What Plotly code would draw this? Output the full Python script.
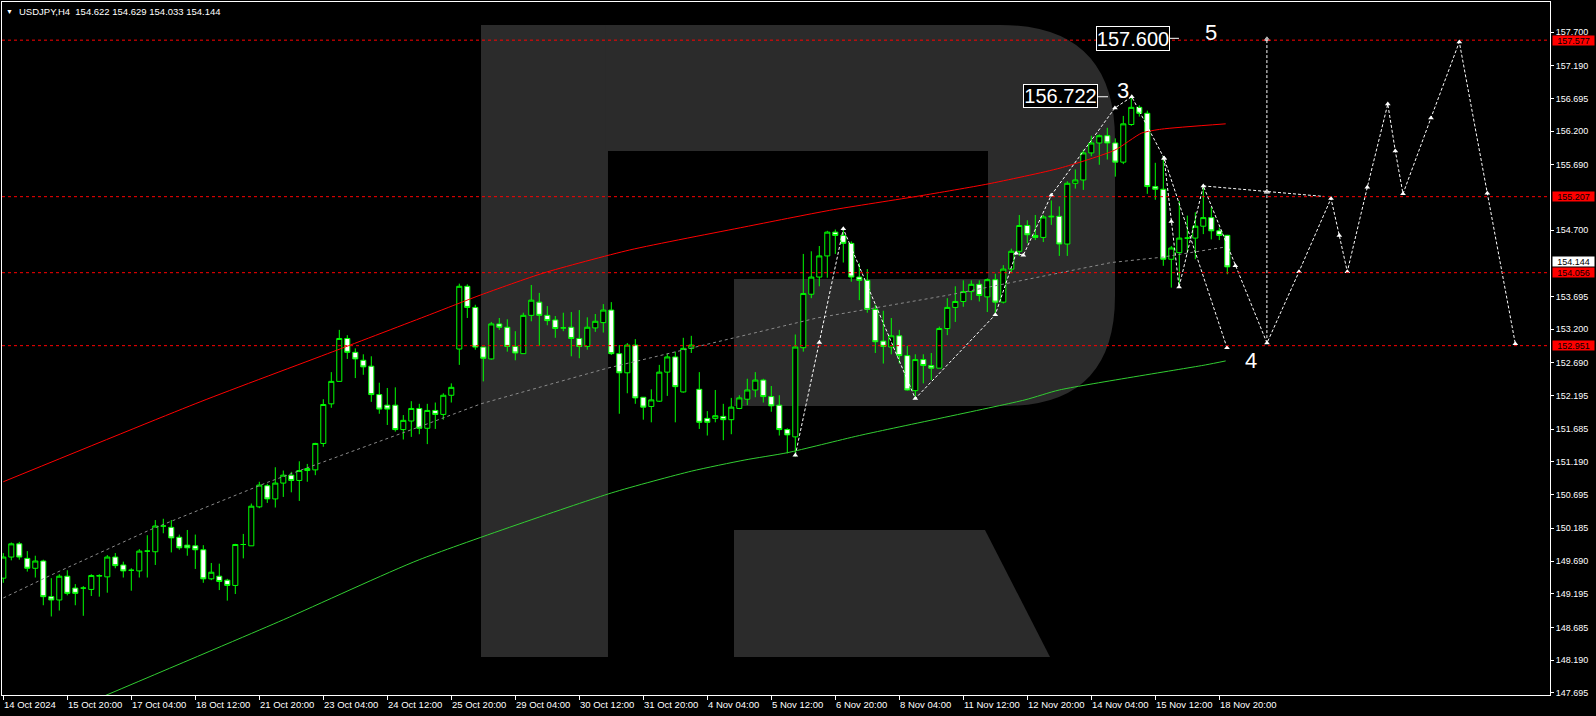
import plotly.graph_objects as go

# ---------------- data ----------------
bar_index = list(range(154))
open_ = [149.43,149.75,149.95,149.73,149.58,149.69,149.15,149.10,149.46,149.28,
         149.28,149.26,149.46,149.45,149.75,149.63,149.55,149.54,149.84,149.83,
         150.22,150.20,150.05,149.93,149.92,149.86,149.42,149.46,149.40,149.32,
         149.94,149.92,150.51,150.83,150.63,150.87,150.99,150.91,151.06,151.07,
         151.47,152.07,152.41,153.06,152.85,152.73,152.64,152.21,152.05,152.05,
         151.68,151.81,152.00,151.70,151.97,151.91,152.20,152.90,153.85,153.53,
         152.93,152.75,153.28,153.23,152.94,152.83,153.41,153.61,153.41,153.34,
         153.22,153.23,153.06,152.94,153.22,153.30,153.49,152.83,152.54,152.96,
         152.17,152.03,152.11,152.55,152.78,152.25,152.91,152.29,151.85,151.85,
         151.88,151.83,152.00,152.14,152.28,152.43,152.18,152.05,151.68,151.57,
         152.92,153.73,153.99,154.31,154.67,154.62,154.50,153.99,153.94,153.50,
         153.02,152.93,153.10,152.80,152.27,152.74,152.65,152.61,153.21,153.53,
         153.62,153.77,153.88,153.69,153.95,153.61,154.11,154.38,154.77,154.62,
         154.59,154.90,154.91,154.49,155.41,155.46,155.87,156.02,156.13,156.02,
         155.73,156.30,156.56,156.47,155.36,155.32,154.26,154.36,154.58,154.58,
         154.76,154.89,154.69,154.622]
high = [149.81,149.97,149.98,149.84,149.77,149.71,149.43,149.49,149.55,149.34,
        149.31,149.49,149.49,149.78,149.81,149.68,149.58,149.87,150.08,150.31,
        150.33,150.31,150.09,150.16,150.09,149.93,149.66,149.65,149.42,149.95,
        150.10,150.56,150.89,150.86,151.11,151.06,151.04,151.20,151.16,151.48,
        152.14,152.55,153.19,153.11,152.91,152.82,152.79,152.39,152.31,152.32,
        151.90,152.11,152.07,152.07,152.09,152.23,152.38,153.89,153.88,153.57,
        152.93,153.31,153.37,153.35,153.17,153.45,153.87,153.75,153.55,153.40,
        153.45,153.46,153.49,153.38,153.43,153.58,153.61,152.96,152.99,153.05,
        152.17,152.29,152.66,152.83,152.86,153.07,153.10,152.55,151.96,152.28,
        152.07,152.16,152.20,152.45,152.55,152.45,152.34,152.20,151.70,153.12,
        154.34,154.38,154.46,154.69,154.71,154.74,154.53,154.20,154.11,153.57,
        153.48,153.37,153.19,152.95,152.82,152.82,152.84,153.24,153.67,153.85,
        153.94,153.94,153.94,153.97,154.04,154.17,154.42,154.93,154.85,154.93,
        154.93,155.15,155.06,155.44,155.62,155.92,156.13,156.15,156.25,156.09,
        156.43,156.72,156.59,156.51,155.72,155.82,154.46,155.14,154.92,154.97,
        155.38,155.05,154.74,154.629]
low = [149.36,149.70,149.71,149.53,149.44,149.02,148.85,148.94,149.17,149.02,
       148.86,149.16,149.15,149.21,149.58,149.44,149.24,149.44,149.44,149.63,
       150.11,149.82,149.86,149.77,149.57,149.36,149.40,149.25,149.09,149.19,
       149.73,149.92,150.49,150.57,150.50,150.66,150.73,150.60,150.89,150.99,
       151.42,152.01,152.41,152.75,152.46,152.51,152.10,151.92,151.75,151.65,
       151.53,151.57,151.61,151.46,151.69,151.83,152.09,152.66,153.37,152.89,
       152.41,152.74,153.19,152.86,152.73,152.83,153.32,152.95,153.26,153.07,
       153.17,152.79,152.76,152.89,153.16,153.15,152.81,151.92,152.23,152.07,
       151.83,151.79,152.10,152.19,151.79,152.24,152.84,151.69,151.59,151.79,
       151.52,151.61,151.99,152.05,152.17,152.09,151.95,151.59,151.32,151.27,
       152.86,153.67,153.85,153.98,154.34,154.21,153.92,153.64,153.45,152.84,
       152.68,152.82,152.68,152.27,152.16,152.38,152.43,152.61,153.11,153.31,
       153.54,153.64,153.62,153.46,153.44,153.59,154.05,154.31,154.50,154.55,
       154.52,154.78,154.31,154.31,155.33,155.31,155.82,155.69,155.77,155.51,
       155.70,156.28,156.42,155.25,155.16,154.16,153.83,153.86,154.36,154.26,
       154.64,154.56,154.55,154.033]
close = [149.75,149.95,149.75,149.58,149.69,149.15,149.10,149.46,149.20,149.20,
         149.28,149.47,149.47,149.75,149.62,149.54,149.55,149.84,149.84,150.22,
         150.22,150.04,149.89,149.89,149.86,149.42,149.52,149.38,149.32,149.94,
         149.94,150.52,150.84,150.63,150.87,150.99,150.91,151.06,151.09,151.47,
         152.06,152.41,153.06,152.85,152.75,152.63,152.21,151.99,151.99,151.68,
         151.82,152.00,151.70,151.97,151.91,152.20,152.32,153.85,153.53,152.93,
         152.76,153.28,153.23,152.94,152.84,153.41,153.64,153.41,153.33,153.21,
         153.22,153.06,152.94,153.23,153.32,153.49,152.83,152.54,152.96,152.16,
         152.02,152.13,152.55,152.78,152.33,152.91,152.96,151.79,151.79,151.89,
         151.83,152.02,152.16,152.28,152.43,152.18,152.04,151.68,151.60,152.93,
         153.74,153.99,154.31,154.67,154.62,154.50,153.99,153.94,153.50,153.01,
         152.94,153.10,152.80,152.28,152.74,152.65,152.61,153.21,153.53,153.62,
         153.77,153.88,153.71,153.95,153.61,154.11,154.38,154.77,154.63,154.59,
         154.90,154.91,154.49,155.41,155.46,155.87,156.02,156.13,156.02,155.73,
         156.31,156.56,156.47,155.36,155.32,154.26,154.43,154.58,154.58,154.76,
         154.89,154.69,154.62,154.144]

tick_bars = [0, 8, 16, 24, 32, 40, 48, 56, 64, 72, 80, 88, 96, 104, 112, 120, 128, 136, 144, 152]
tick_labels = ["14 Oct 2024", "15 Oct 20:00", "17 Oct 04:00", "18 Oct 12:00", "21 Oct 20:00",
               "23 Oct 04:00", "24 Oct 12:00", "25 Oct 20:00", "29 Oct 04:00", "30 Oct 12:00",
               "31 Oct 20:00", "4 Nov 04:00", "5 Nov 12:00", "6 Nov 20:00", "8 Nov 04:00",
               "11 Nov 12:00", "12 Nov 20:00", "14 Nov 04:00", "15 Nov 12:00", "18 Nov 20:00"]

price_ticks = [157.700, 157.190, 156.695, 156.200, 155.690, 154.700, 153.695, 153.200,
               152.690, 152.195, 151.685, 151.190, 150.695, 150.185, 149.690, 149.195,
               148.685, 148.190, 147.695]

level_prices = [157.577, 155.207, 154.056, 152.951]
last_price = 154.144
title_text = "USDJPY,H4\u00a0\u00a0154.622 154.629 154.033 154.144"

# indicator lines (bar index, price)
red_x = [0, 24.6, 41.2, 53.3, 59.7, 67.5, 78.3, 92.7, 103.3, 114.6, 123.1, 132.1, 138.9, 142.3, 144.8, 152.8]
red_y = [150.89, 152.10, 152.86, 153.42, 153.72, 154.05, 154.40, 154.75, 155.00, 155.22, 155.40, 155.64, 155.91, 156.17, 156.23, 156.31]
green_x = [12.5, 35, 52, 76, 86, 92.7, 98, 107, 127.7, 132, 150.3, 152.8]
green_y = [147.64, 148.80, 149.71, 150.72, 151.05, 151.22, 151.33, 151.59, 152.13, 152.28, 152.66, 152.72]
mid_x = [0, 6.2, 18.3, 33, 53.3, 59.7, 75.5, 91.7, 101.7, 118.3, 132.1, 138.5, 144.8, 152.5]
mid_y = [149.13, 149.49, 150.16, 150.88, 151.78, 152.07, 152.61, 153.08, 153.37, 153.72, 154.05, 154.21, 154.29, 154.44]

# forecast / wave drawings
wave_x = [99.0, 102.0, 105.0, 114.0, 124.0, 126.6, 127.5, 131.0, 138.95, 141.06, 145.1, 152.96]
wave_y = [151.29, 153.00, 154.72, 152.15, 153.42, 154.35, 154.32, 155.23, 156.55, 156.72, 155.79, 152.92]
fc_x = [145.1, 146.0, 146.97, 150.0, 154.0, 157.96, 161.96, 165.96, 167.0, 168.0, 170.5, 173.06,
        174.0, 174.96, 178.46, 182.0, 185.5, 189.0]
fc_y = [155.79, 154.83, 153.84, 155.37, 154.16, 152.99, 154.07, 155.18, 154.62, 154.07, 155.35, 156.61,
        155.90, 155.25, 156.40, 157.55, 155.26, 152.98]
flat_x = [150.0, 157.95, 165.1]
flat_y = [155.37, 155.28, 155.21]
vert_x = [157.95, 157.95]
vert_y = [152.99, 157.59]

target5 = "157.600"
target3 = "156.722"

# ---------------- layout geometry ----------------
W, H = 1596, 716
L, R, T, B = 2, 46, 2, 21
PW, PH = W - L - R, H - T - B
x_range = [-0.1625, 193.3375]
y_range = [147.661, 158.155]


def px(xp, yp):
    return ((xp - L) / PW, (H - B - yp) / PH)


def path_from(points):
    out = []
    for cmd, pts in points:
        coords = []
        for (a, b) in pts:
            fx, fy = px(a, b)
            coords.append(f"{fx:.5f},{fy:.5f}")
        out.append(cmd + " " + " ".join(coords) if pts else cmd)
    return " ".join(out)


logo = "#2b2b2b"
stem = path_from([("M", [(481, 25)]), ("L", [(608, 25)]), ("L", [(608, 657)]), ("L", [(481, 657)]), ("Z", [])])
bowl = path_from([("M", [(606, 25)]), ("L", [(1000, 25)]), ("Q", [(1115, 25), (1115, 140)]),
                  ("L", [(1115, 296)]), ("Q", [(1115, 406), (1005, 406)]), ("L", [(734, 406)]),
                  ("L", [(734, 279)]), ("L", [(988, 279)]), ("L", [(988, 151)]), ("L", [(606, 151)]), ("Z", [])])
leg = path_from([("M", [(734, 530)]), ("L", [(985, 530)]), ("L", [(1050, 657)]), ("L", [(734, 657)]), ("Z", [])])

shapes = []
for p in (stem, bowl, leg):
    shapes.append(dict(type="path", path=p, xref="paper", yref="paper",
                       fillcolor=logo, line=dict(width=0), layer="below"))
for lv in level_prices:
    shapes.append(dict(type="line", xref="paper", x0=0, x1=1, yref="y", y0=lv, y1=lv,
                       line=dict(color="#ff0000", width=1, dash="3px,3px"), layer="above"))
# short connectors after the boxed texts
shapes.append(dict(type="line", xref="x", yref="y", x0=145.8, x1=146.96, y0=157.605, y1=157.605,
                   line=dict(color="white", width=1)))
shapes.append(dict(type="line", xref="x", yref="y", x0=136.84, x1=138.09, y0=156.72, y1=156.72,
                   line=dict(color="white", width=1)))

fig = go.Figure()

fig.add_trace(go.Scatter(x=mid_x, y=mid_y, mode="lines", line=dict(color="#8a8a8a", width=1, dash="3px,3px"),
                         hoverinfo="skip", showlegend=False))
fig.add_trace(go.Scatter(x=red_x, y=red_y, mode="lines", line=dict(color="#ff0000", width=1, shape="spline", smoothing=0.6),
                         hoverinfo="skip", showlegend=False))
fig.add_trace(go.Scatter(x=green_x, y=green_y, mode="lines", line=dict(color="#32cd32", width=1, shape="spline", smoothing=0.6),
                         hoverinfo="skip", showlegend=False))

fig.add_trace(go.Candlestick(
    x=bar_index, open=open_, high=high, low=low, close=close,
    increasing=dict(line=dict(color="#00ff00", width=1), fillcolor="#000000"),
    decreasing=dict(line=dict(color="#00ff00", width=1), fillcolor="#ffffff"),
    whiskerwidth=0, hoverinfo="skip", showlegend=False))

dash_line = dict(color="white", width=1, dash="3px,2px")
mk = dict(symbol="triangle-up", size=5, color="white")
fig.add_trace(go.Scatter(x=wave_x, y=wave_y, mode="lines+markers", line=dash_line, marker=mk,
                         hoverinfo="skip", showlegend=False))
fig.add_trace(go.Scatter(x=fc_x, y=fc_y, mode="lines+markers", line=dash_line, marker=mk,
                         hoverinfo="skip", showlegend=False))
fig.add_trace(go.Scatter(x=flat_x, y=flat_y, mode="lines+markers", line=dash_line,
                         marker=dict(symbol="triangle-up", size=[0, 5, 0], color="white"),
                         hoverinfo="skip", showlegend=False))
fig.add_trace(go.Scatter(x=vert_x, y=vert_y, mode="lines+markers", line=dash_line,
                         marker=dict(symbol="triangle-up", size=[0, 5], color="white"),
                         hoverinfo="skip", showlegend=False))

FONT = "Liberation Sans, Arial, sans-serif"
ann = []
# title
tx, ty = px(17, 11)
ann.append(dict(xref="paper", yref="paper", x=tx, y=ty, xanchor="left", yanchor="middle",
                text=title_text, showarrow=False, font=dict(color="white", size=9.5, family=FONT)))
tx, ty = px(9.5, 11)
ann.append(dict(xref="paper", yref="paper", x=tx, y=ty, xanchor="center", yanchor="middle",
                text="\u25bc", showarrow=False, font=dict(color="white", size=7, family=FONT)))
# date labels
_, ly = px(0, 704.5)
for b, t in zip(tick_bars, tick_labels):
    ann.append(dict(xref="x", yref="paper", x=b, y=ly, xanchor="left", yanchor="middle", xshift=-1,
                    text=t, showarrow=False, font=dict(color="white", size=9.5, family=FONT)))
# right-axis price labels
lx, _ = px(1551.5, 0)
ann.append(dict(xref="paper", yref="y", x=lx, y=last_price, xanchor="left", yanchor="middle", yshift=5,
                text=f"{last_price:.3f}", showarrow=False, bgcolor="#ffffff", width=41, height=9,
                borderpad=0, font=dict(color="black", size=9, family=FONT)))
for lv in level_prices:
    ann.append(dict(xref="paper", yref="y", x=lx, y=lv, xanchor="left", yanchor="middle",
                    text=f"{lv:.3f}", showarrow=False, bgcolor="#ff0000", width=41, height=9,
                    borderpad=0, font=dict(color="black", size=9, family=FONT)))
# boxed wave targets and wave numbers
ann.append(dict(xref="x", yref="y", x=141.2, y=157.605, text=target5, showarrow=False,
                bgcolor="black", bordercolor="white", borderwidth=1, borderpad=0, width=72, height=23,
                font=dict(color="white", size=20, family=FONT)))
ann.append(dict(xref="x", yref="y", x=132.15, y=156.728, text=target3, showarrow=False,
                bgcolor="black", bordercolor="white", borderwidth=1, borderpad=0, width=73, height=22,
                font=dict(color="white", size=20, family=FONT)))
for (wx, wy, wt) in [(150.96, 157.70, "5"), (139.96, 156.82, "3"), (156.0, 152.73, "4")]:
    ann.append(dict(xref="x", yref="y", x=wx, y=wy, text=wt, showarrow=False,
                    font=dict(color="white", size=22, family=FONT)))

fig.update_layout(
    width=W, height=H,
    margin=dict(l=L, r=R, t=T, b=B, autoexpand=False),
    paper_bgcolor="black", plot_bgcolor="black",
    showlegend=False, hovermode=False,
    boxgap=0.1, boxgroupgap=0.3,
    shapes=shapes, annotations=ann,
    font=dict(family=FONT, color="white", size=9),
    xaxis=dict(range=x_range, showgrid=False, zeroline=False, showline=True, linecolor="white",
               linewidth=1, mirror=True, ticks="outside", ticklen=4, tickcolor="white",
               tickvals=tick_bars, showticklabels=False, rangeslider=dict(visible=False), fixedrange=True),
    yaxis=dict(range=y_range, side="right", showgrid=False, zeroline=False, showline=True, linecolor="white",
               linewidth=1, mirror=True, ticks="outside", ticklen=3, tickcolor="white",
               tickvals=price_ticks, ticktext=[f"{v:.3f}" for v in price_ticks],
               tickfont=dict(color="white", size=9, family=FONT), fixedrange=True),
)

fig.write_html("out.html", config={"displayModeBar": False},
               post_script="document.body.style.margin='0';document.body.style.overflow='hidden';document.body.style.background='black';")
